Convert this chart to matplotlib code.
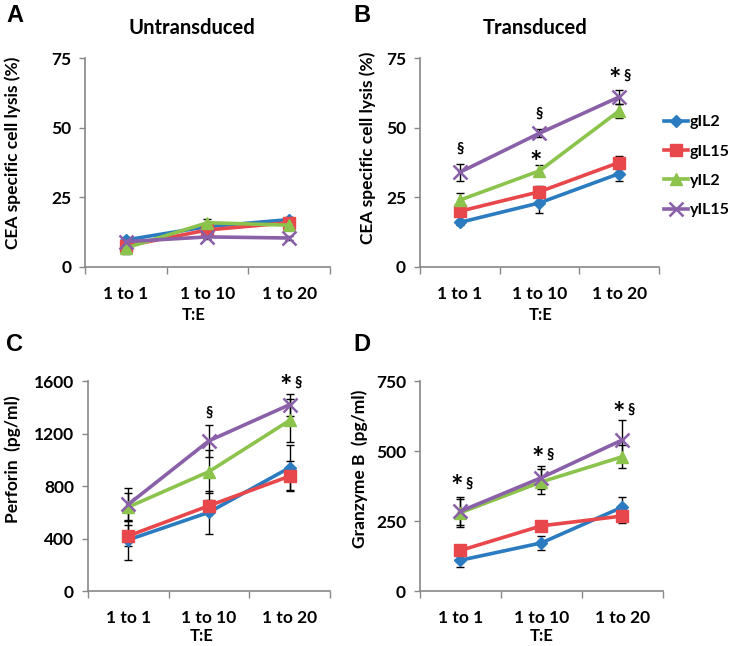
import numpy as np
import matplotlib.pyplot as plt

plt.rcParams['font.family'] = ['Lato', 'DejaVu Sans']
plt.rcParams['font.weight'] = 'bold'
plt.rcParams['axes.labelweight'] = 'bold'

# categories (T:E ratio)
ratios = ['1 to 1', '1 to 10', '1 to 20']
series = ['gIL2', 'gIL15', 'yIL2', 'yIL15']
colors = ['#2b7bc1', '#e8474b', '#8cc34d', '#8a60a8']
markers = ['D', 's', '^', 'x']
msizes = [6, 8, 8, 10]

# A - untransduced lysis (%)
untrans_mean = [[9.7, 14.5, 17.0], [7.5, 13.3, 15.9], [6.8, 15.9, 15.0], [9.1, 10.8, 10.4]]
untrans_err = [[1.0, 1.0, 1.0], [3.0, 1.0, 1.0], [1.0, 1.2, 1.0], [0.8, 0.8, 0.8]]

# B - transduced lysis (%)
trans_mean = [[16.0, 23.0, 33.5], [20.0, 27.0, 37.5], [24.0, 34.5, 56.0], [34.0, 48.0, 61.0]]
trans_err = [[1.0, 3.5, 2.5], [1.0, 2.0, 2.5], [2.5, 2.0, 2.5], [3.0, 1.5, 2.5]]

# C - perforin (pg/ml)
perf_mean = [[390, 600, 940], [420, 650, 875], [640, 910, 1300], [660, 1145, 1420]]
perf_err = [[150, 165, 170], [80, 45, 113], [110, 165, 165], [125, 120, 85]]

# D - granzyme B (pg/ml)
gran_mean = [[110, 172, 300], [145, 233, 268], [280, 390, 480], [285, 405, 540]]
gran_err = [[25, 25, 35], [10, 10, 25], [50, 45, 40], [50, 40, 70]]

# significance marks: (category index, y value, text)
trans_marks = [(0, 42.5, '§'), (1, 55.0, '§'), (1, 39.0, '*'), (2, 68.5, '*§')]
perf_marks = [(1, 1360, '§'), (2, 1590, '*§')]
gran_marks = [(0, 385, '*§'), (1, 487, '*§'), (2, 648, '*§')]


def draw(ax, means, errs, ymax, yticks, ylabel, marks, ylab_xy, xlab_xy):
    x = np.arange(len(ratios))
    for i in range(len(series)):
        ax.errorbar(x, means[i], yerr=errs[i], fmt='none', ecolor='black',
                    elinewidth=1, capsize=3, capthick=1, zorder=2)
    for i in range(len(series)):
        ax.plot(x, means[i], color=colors[i], marker=markers[i], ms=msizes[i],
                mew=1.8 if markers[i] == 'x' else 1, mec=colors[i], lw=2.6,
                label=series[i], zorder=3)
    ax.set_xlim(-0.5, 2.5)
    ax.set_ylim(0, ymax)
    ax.set_yticks(yticks)
    ax.set_xticks(x)
    ax.set_xticklabels(ratios)
    ax.set_xticks([-0.5, 0.5, 1.5, 2.5], minor=True)
    ax.tick_params(axis='x', which='major', length=0, pad=14, labelsize=12.5)
    ax.tick_params(axis='x', which='minor', length=5, color='#888888', width=1)
    ax.tick_params(axis='y', length=4, color='#888888', width=1, labelsize=12.5, pad=6)
    for s in ['top', 'right']:
        ax.spines[s].set_visible(False)
    for s in ['left', 'bottom']:
        ax.spines[s].set_color('#888888')
        ax.spines[s].set_linewidth(1.2)
    ax.set_ylabel(ylabel, fontsize=12.5, va='center')
    ax.yaxis.set_label_coords(*ylab_xy)
    ax.set_xlabel('T:E', fontsize=12, va='center')
    ax.xaxis.set_label_coords(*xlab_xy)
    for ci, yv, txt in marks:
        if txt.startswith('*'):
            ax.text(ci - 0.05, yv - ymax * 0.02, '*', ha='center', va='center', fontsize=21)
            if '§' in txt:
                ax.text(ci + 0.1, yv, '§', ha='center', va='center', fontsize=10.5)
        else:
            ax.text(ci, yv, txt, ha='center', va='center', fontsize=10.5)


fig = plt.figure(figsize=(7.42, 6.46), dpi=100)
axA = fig.add_axes([0.1146, 0.5867, 0.330, 0.3235])
axB = fig.add_axes([0.566, 0.5867, 0.322, 0.3235])
axC = fig.add_axes([0.1186, 0.0851, 0.326, 0.325])
axD = fig.add_axes([0.566, 0.0851, 0.3275, 0.325])

draw(axA, untrans_mean, untrans_err, 75, [0, 25, 50, 75], 'CEA specific cell lysis (%)', [],
     (-0.294, 0.545), (0.445, -0.23))
draw(axB, trans_mean, trans_err, 75, [0, 25, 50, 75], 'CEA specific cell lysis (%)', trans_marks,
     (-0.218, 0.57), (0.506, -0.23))
draw(axC, perf_mean, perf_err, 1600, [0, 400, 800, 1200, 1600], 'Perforin  (pg/ml)', perf_marks,
     (-0.312, 0.63), (0.47, -0.214))
draw(axD, gran_mean, gran_err, 750, [0, 250, 500, 750], 'Granzyme B  (pg/ml)', gran_marks,
     (-0.247, 0.58), (0.50, -0.214))

fig.text(192 / 742, 1 - 28 / 646, 'Untransduced', ha='center', va='center', fontsize=14.5)
fig.text(535 / 742, 1 - 28 / 646, 'Transduced', ha='center', va='center', fontsize=14.5)
for lx, ly, letter in [(15, 15, 'A'), (362, 15, 'B'), (15, 345, 'C'), (362, 345, 'D')]:
    fig.text(lx / 742, 1 - ly / 646, letter, ha='center', va='center', fontsize=17,
             family=['Liberation Sans', 'DejaVu Sans'])

handles, labels = axB.get_legend_handles_labels()
fig.legend(handles, labels, loc='upper left', bbox_to_anchor=(664 / 742, 1 - 115 / 646),
           frameon=False, fontsize=11.5, handlelength=1.5, handletextpad=0.1,
           labelspacing=0.95, borderpad=0, borderaxespad=0)

fig.savefig('out.png', dpi=100)
